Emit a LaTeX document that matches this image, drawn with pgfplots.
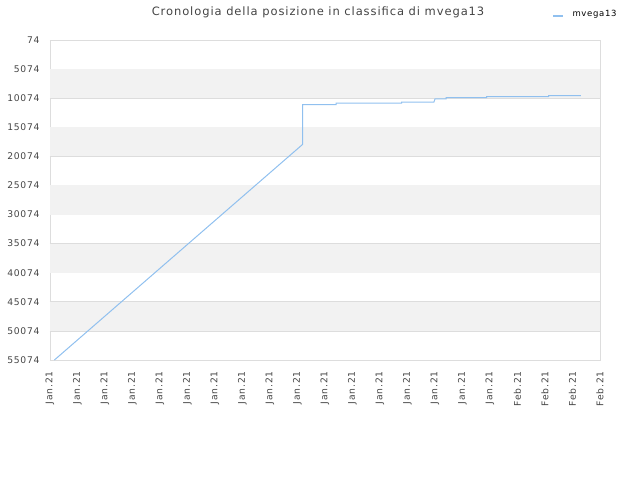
\documentclass[border=0pt]{standalone}
\usepackage{pgfplots}
\pgfplotsset{compat=1.18}
\usepackage{fontspec}
\setmainfont{DejaVu Sans}[LetterSpace=8]
\definecolor{lineblue}{HTML}{7CB5EC}
\definecolor{band}{RGB}{242,242,242}
\definecolor{gridc}{RGB}{221,221,221}
\definecolor{txt}{RGB}{68,68,68}
\begin{document}
\begin{tikzpicture}[x=1pt,y=1pt]
\begin{axis}[
    at={(50pt,120pt)}, anchor=south west,
    scale only axis, width=550pt, height=320pt,
    xmin=0, xmax=20, ymin=74, ymax=55074,
    y dir=reverse,
    scaled y ticks=false,
    xtick={0,...,20},
    xticklabels={Jan.21,Jan.21,Jan.21,Jan.21,Jan.21,Jan.21,Jan.21,Jan.21,Jan.21,Jan.21,Jan.21,Jan.21,Jan.21,Jan.21,Jan.21,Jan.21,Jan.21,Feb.21,Feb.21,Feb.21,Feb.21},
    xticklabel style={rotate=90, anchor=east, font=\fontsize{9.2}{10}\selectfont, text=txt},
    xticklabel shift=8pt,
    ytick={74,5074,10074,15074,20074,25074,30074,35074,40074,45074,50074,55074},
    yticklabels={74,5074,10074,15074,20074,25074,30074,35074,40074,45074,50074,55074},
    yticklabel style={font=\fontsize{9.2}{10}\selectfont, text=txt},
    yticklabel shift=7pt,
    ymajorgrids, grid style={gridc, line width=0.8pt},
    axis line style={gridc},
    major tick length=0pt,
]
\fill[band] (axis cs:0,5074) rectangle (axis cs:20,10074);
\fill[band] (axis cs:0,15074) rectangle (axis cs:20,20074);
\fill[band] (axis cs:0,25074) rectangle (axis cs:20,30074);
\fill[band] (axis cs:0,35074) rectangle (axis cs:20,40074);
\fill[band] (axis cs:0,45074) rectangle (axis cs:20,50074);
\addplot[lineblue!85, line width=1pt] coordinates {
 (0.16,55074) (9.19,18000) (9.19,11175) (10.40,11175) (10.40,10934)
 (12.79,10934) (12.79,10762) (13.96,10762) (14.0,10194) (14.40,10194)
 (14.40,9970) (15.88,9970) (15.88,9800) (18.13,9800) (18.13,9625) (19.30,9625)
};
\end{axis}
\node[txt, font=\fontsize{11.5}{13}\selectfont] at (318pt,468pt) {Cronologia della posizione in classifica di mvega13};
\draw[lineblue!85, line width=1.2pt] (553pt,464pt) -- (563pt,464pt);
\node[anchor=west, font=\fontsize{8.5}{9}\selectfont] at (569pt,466pt) {mvega13};
\pgfresetboundingbox
\useasboundingbox (0,0) rectangle (640pt,480pt);
\end{tikzpicture}
\end{document}
